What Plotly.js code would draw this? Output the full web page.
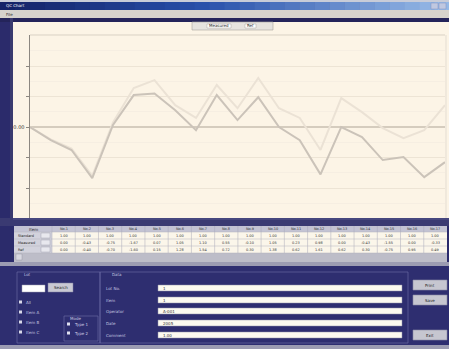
<!DOCTYPE html>
<html><head><meta charset="utf-8">
<script src="https://cdn.plot.ly/plotly-3.0.1.min.js"></script>
<style>html,body{margin:0;padding:0;background:#2b2b6b;}#chart{width:449px;height:349px;}</style>
</head><body><div id="chart"></div>
<script>
// ---- data ----
const points = [1,2,3,4,5,6,7,8,9,10,11,12,13,14,15,16,17,18,19,20,21];
const measured = [0,-0.43,-0.75,-1.67,0.07,1.05,1.1,0.55,-0.1,1.05,0.23,0.98,0,-0.43,-1.55,0,-0.33,-1.08,-0.98,-1.64,-1.15];
const reference = [0,-0.4,-0.7,-1.6,0.15,1.28,1.54,0.72,0.3,1.38,0.62,1.61,0.62,0.3,-0.75,0.95,0.49,-0.03,-0.36,-0.1,0.72];
const seriesNames = ['Measured', 'Ref'];
const yTickVals = [-2,-1,0,1,2];
const yTickText = ['','','0.00','',''];
const tableCorner = 'Item';
const tableRowLabels = ['Standard','Measured','Ref'];
const tableColumns = ['No.1','No.2','No.3','No.4','No.5','No.6','No.7','No.8','No.9','No.10','No.11','No.12','No.13','No.14','No.15','No.16','No.17'];
const standardRow = [1,1,1,1,1,1,1,1,1,1,1,1,1,1,1,1,1];
const fieldLabels = ['Lot No.','Item','Operator','Date','Comment'];
const fieldValues = ['1','1','A-001','2005','1.00'];
const buttonLabels = ['Print','Save','Exit'];

// ---- helpers ----
const W = 449, H = 349;
const X = p => p / W, Y = p => 1 - p / H;
const shapes = [], ann = [];
function rect(x0, y0, x1, y1, fill, line, lw) {
  shapes.push({type:'rect', xref:'paper', yref:'paper', x0:X(x0), x1:X(x1), y0:Y(y1), y1:Y(y0),
    fillcolor: fill, line:{color: line || fill, width: lw || 0}, layer:'below'});
}
function hline(x0, x1, y, color, w, layer) {
  shapes.push({type:'line', xref:'paper', yref:'paper', x0:X(x0), x1:X(x1), y0:Y(y), y1:Y(y),
    line:{color, width: w || 1}, layer: layer || 'below'});
}
function vline(x, y0, y1, color, w, layer) {
  shapes.push({type:'line', xref:'paper', yref:'paper', x0:X(x), x1:X(x), y0:Y(y0), y1:Y(y1),
    line:{color, width: w || 1}, layer: layer || 'below'});
}
function label(x, y, text, color, size, anchor) {
  ann.push({xref:'paper', yref:'paper', x:X(x), y:Y(y), text, showarrow:false,
    xanchor: anchor || 'left', yanchor:'middle', font:{size: size || 5, color: color || '#222', family:'DejaVu Sans'}});
}

// window chrome
rect(0, 0, 449, 349, '#2b2b6b');
rect(0, 0, 449, 2, '#c8ccd8');
const stops = [[0,[20,34,104]],[0.45,[40,80,170]],[1,[150,185,230]]];
function lerpColor(t){
  for (let i=0;i<stops.length-1;i++){
    const [a,ca]=stops[i],[b,cb]=stops[i+1];
    if(t>=a&&t<=b){const f=(t-a)/(b-a);return 'rgb('+ca.map((c,k)=>Math.round(c+(cb[k]-c)*f)).join(',')+')';}
  }
  return 'rgb(150,185,230)';
}
const NS = 30;
for (let i=0;i<NS;i++) rect(i*W/NS, 2, (i+1)*W/NS+0.5, 10, lerpColor(i/(NS-1)));
label(4, 6, 'QC Chart', '#ffffff', 4);
rect(431, 3, 438, 9, '#c0c8e0', '#8090c0', 0.5);
rect(439, 3, 446, 9, '#c0c8e0', '#8090c0', 0.5);
rect(0, 10, 449, 18, '#d6d3cc');
label(4, 14, 'File', '#333', 4);
rect(0, 18, 449, 22, '#24245a');
rect(10, 18, 13, 218, '#3a3a6e');
// chart panel
rect(13, 22, 449, 218, '#fcf4e6');
hline(30, 445, 35, '#d9d1c4', 1);
vline(446, 35, 218, '#e4ddd2', 1);
// legend box
rect(192, 22, 273, 30, '#e6e3de', '#a8a4a0', 0.6);
rect(207, 24, 231, 28, '#ffffff', '#9a9690', 0.4);
label(219, 26, seriesNames[0], '#222', 4, 'center');
rect(245, 24, 256, 28, '#ffffff', '#9a9690', 0.4);
label(250.5, 26, seriesNames[1], '#222', 4, 'center');

// table area
rect(0, 218, 449, 226, '#3a3a72');
hline(13, 449, 219, '#55558a', 1);
const tx0 = 14, tx1 = 447, lc = 52;
const cw = (tx1 - lc) / tableColumns.length;
rect(tx0, 226, tx1, 232, '#c3c3d3');
rect(tx0, 232, tx1, 253, '#fbf6ea');
rect(tx0, 232, lc, 253, '#d2d2dc');
rect(tx0, 253, tx1, 262, '#bdbdc8');
rect(tx0+2, 254, tx0+8, 260, '#d8d8e0', '#9090a0', 0.4);
label((tx0+lc)/2, 229, tableCorner, '#222', 4, 'center');
tableColumns.forEach((c, i) => {
  const cx = lc + cw*i;
  vline(cx, 226, 253, '#a8a8b8', 0.5);
  label(cx + cw/2, 229, c, '#333', 3.5, 'center');
  label(cx + cw/2, 235.5, standardRow[i].toFixed(2), '#333', 3.5, 'center');
  label(cx + cw/2, 242.5, measured[i].toFixed(2), '#333', 3.5, 'center');
  label(cx + cw/2, 249.5, reference[i].toFixed(2), '#333', 3.5, 'center');
});
[232, 239, 246, 253].forEach(y => hline(tx0, tx1, y, '#b0b0bc', 0.5));
tableRowLabels.forEach((r, i) => {
  label(tx0 + 2, 235.5 + 7*i, r, '#222', 3.5, 'left');
  rect(41, 233 + 7*i, 50, 238 + 7*i, '#e8e8ee', '#9898a8', 0.4);
});

// control panel
rect(0, 262, 449, 266, '#9c9cb2');
rect(0, 266, 449, 349, '#2e2e70');
rect(17, 272, 100, 343, 'rgba(0,0,0,0)', '#6e6ea8', 0.6);
rect(100, 272, 408, 343, 'rgba(0,0,0,0)', '#6e6ea8', 0.6);
label(22, 274, 'Lot', '#c8c8e0', 4);
label(110, 274, 'Data', '#c8c8e0', 4);
rect(22, 285, 45, 292, '#ffffff', '#a0a0b0', 0.5);
rect(48, 283, 73, 292, '#c9c9d3', '#8080a0', 0.5);
label(60.5, 287.5, 'Search', '#222', 4, 'center');
const radios = ['All', 'Item A', 'Item B', 'Item C'];
radios.forEach((r, i) => {
  rect(19, 302 + 10*i - 1.5, 22, 302 + 10*i + 1.5, '#d8d8e8');
  label(24, 302 + 10*i, r, '#c8c8e0', 4);
});
rect(64, 316, 98, 341, 'rgba(0,0,0,0)', '#6e6ea8', 0.6);
label(68, 318, 'Mode', '#c8c8e0', 4);
['Type 1','Type 2'].forEach((r, i) => {
  rect(67, 324 + 9*i - 1.5, 70, 324 + 9*i + 1.5, '#e0e0f0');
  label(72, 324 + 9*i, r, '#d0d0e8', 4);
});
const fieldY = [285, 297, 308, 320, 332];
fieldLabels.forEach((f, i) => {
  label(104, fieldY[i] + 3, f, '#c8c8e0', 4);
  rect(158, fieldY[i], 402, fieldY[i] + 6, '#fcfaf0', '#9090a8', 0.5);
  label(161, fieldY[i] + 3, fieldValues[i], '#333', 4);
});
const btnY = [[280, 290], [295, 305], [330, 340]];
buttonLabels.forEach((b, i) => {
  rect(413, btnY[i][0], 447, btnY[i][1], '#c6c6d0', '#8c8ca4', 0.6);
  label(430, (btnY[i][0] + btnY[i][1]) / 2, b, '#222', 4, 'center');
});
rect(0, 345, 449, 349, '#9c9cb2');

// ---- traces ----
const traces = [
  {x: points, y: reference, name: seriesNames[1], type:'scatter', mode:'lines',
   line:{color:'#ebe2d5', width:2}, hoverinfo:'skip'},
  {x: points, y: measured, name: seriesNames[0], type:'scatter', mode:'lines',
   line:{color:'#cbc3b9', width:2}, hoverinfo:'skip'}
];

const layout = {
  width: W, height: H,
  margin: {l:0, r:0, t:0, b:0},
  paper_bgcolor: '#2b2b6b',
  plot_bgcolor: 'rgba(0,0,0,0)',
  showlegend: false,
  font: {family: 'DejaVu Sans', size: 5, color: '#222'},
  xaxis: {domain: [X(30), X(445)], range: [1, 21], showgrid: false, zeroline: false,
    showticklabels: false, ticks: '', showline: false, fixedrange: true},
  yaxis: {domain: [Y(218), Y(35)], range: [-2.98, 3.02], tickmode: 'array',
    tickvals: yTickVals, ticktext: yTickText, ticks: 'outside', ticklen: 3, tickcolor: '#8c8780',
    tickfont: {size: 5, color: '#333'}, showline: true, linecolor: '#8c8780', linewidth: 1.5,
    showgrid: true, gridcolor: '#ede4d5', gridwidth: 1,
    minor: {dtick: 0.5, showgrid: true, gridcolor: '#f6eee2', gridwidth: 1},
    zeroline: true, zerolinecolor: '#d5ccbe', zerolinewidth: 1.5, fixedrange: true},
  shapes: shapes,
  annotations: ann
};

Plotly.newPlot('chart', traces, layout, {displayModeBar: false, staticPlot: true});
</script>
</body></html>
